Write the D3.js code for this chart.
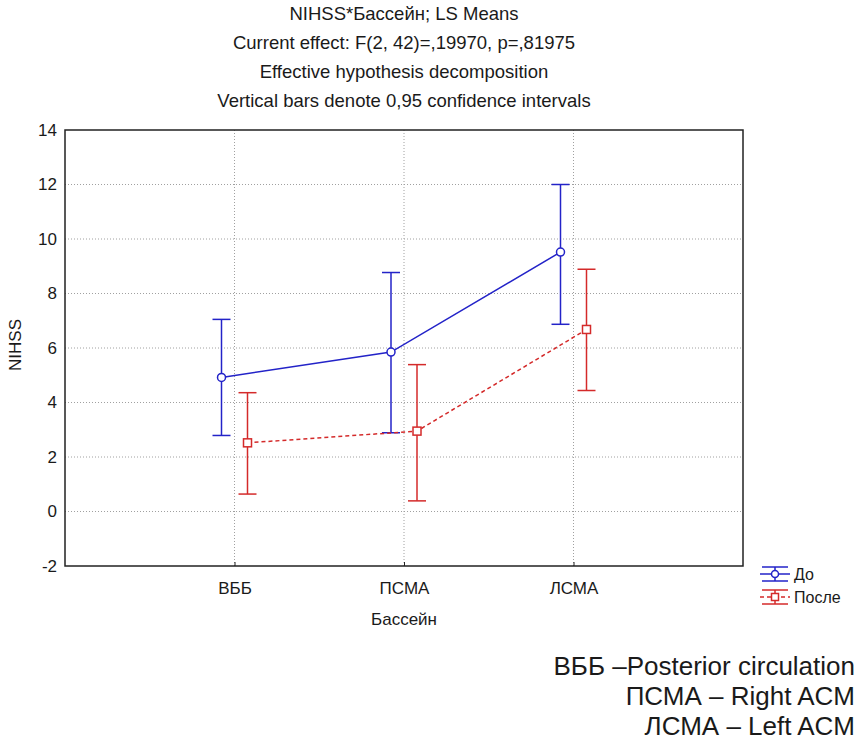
<!DOCTYPE html>
<html>
<head>
<meta charset="utf-8">
<script src="https://cdn.jsdelivr.net/npm/d3@7"></script>
<style>
  body { margin: 0; background: #fff; }
  text { font-family: "Liberation Sans", Arial, sans-serif; fill: #1a1a1a; }
</style>
</head>
<body>
<div id="chart-container"></div>
<script>
// Data
const categories = ["ВББ", "ПСМА", "ЛСМА"];
const seriesNames = ["До", "После"];
const doMean = [4.92, 5.85, 9.52];
const doLow = [2.79, 2.89, 6.87];
const doHigh = [7.05, 8.77, 12.0];
const posleMean = [2.52, 2.95, 6.68];
const posleLow = [0.64, 0.39, 4.44];
const posleHigh = [4.36, 5.39, 8.89];
const yTicks = [-2, 0, 2, 4, 6, 8, 10, 12, 14];
const titleLines = [
    "NIHSS*Бассейн; LS Means",
    "Current effect: F(2, 42)=,19970, p=,81975",
    "Effective hypothesis decomposition",
    "Vertical bars denote 0,95 confidence intervals"
];
const noteLines = [
    "ВББ –Posterior circulation",
    "ПСМА – Right ACM",
    "ЛСМА – Left ACM"
];

const W = 858, H = 743;
const margin = { top: 130, right: 115, bottom: 177, left: 65 };
const width = W - margin.left - margin.right;
const height = H - margin.top - margin.bottom;

const svg = d3.select("#chart-container")
    .append("svg")
    .attr("width", W)
    .attr("height", H);

const g = svg.append("g")
    .attr("transform", `translate(${margin.left},${margin.top})`);

// Scales
const x = d3.scalePoint()
    .domain(categories)
    .range([0, width])
    .padding(1);

const dodge = d3.scalePoint()
    .domain(seriesNames)
    .range([-13, 13]);

const y = d3.scaleLinear()
    .domain([-2, 14])
    .range([height, 0]);

const colors = { "До": "#2323c8", "После": "#d42a2a" };

// Grid
g.append("g")
    .selectAll("line")
    .data(yTicks.filter(d => d > -2 && d < 14))
    .join("line")
    .attr("x1", 0).attr("x2", width)
    .attr("y1", d => y(d)).attr("y2", d => y(d))
    .attr("stroke", "#a0a0a0")
    .attr("stroke-dasharray", "1,2");

g.append("g")
    .selectAll("line")
    .data(categories)
    .join("line")
    .attr("x1", d => x(d)).attr("x2", d => x(d))
    .attr("y1", 0).attr("y2", height)
    .attr("stroke", "#a0a0a0")
    .attr("stroke-dasharray", "1,2");

// Axes
const yAxis = g.append("g")
    .call(d3.axisLeft(y).tickValues(yTicks).tickFormat(d => String(d)).tickSize(0).tickPadding(8));
yAxis.select(".domain").remove();
yAxis.selectAll("text")
    .attr("font-size", 17)
    .attr("font-family", "Liberation Sans, Arial, sans-serif")
    .attr("fill", "#1a1a1a");

const xAxis = g.append("g")
    .attr("transform", `translate(0,${height})`)
    .call(d3.axisBottom(x).tickSize(-4).tickPadding(16));
xAxis.select(".domain").remove();
xAxis.selectAll("line").attr("stroke", "#222");
xAxis.selectAll("text")
    .attr("font-size", 17)
    .attr("font-family", "Liberation Sans, Arial, sans-serif")
    .attr("fill", "#1a1a1a");

// Frame
g.append("rect")
    .attr("width", width)
    .attr("height", height)
    .attr("fill", "none")
    .attr("stroke", "#222")
    .attr("stroke-width", 1.5);

// Series
const series = [
    { name: "До", mean: doMean, low: doLow, high: doHigh, dash: null, marker: "circle" },
    { name: "После", mean: posleMean, low: posleLow, high: posleHigh, dash: "4,3", marker: "square" }
];

const capHalf = 9;

series.forEach(s => {
    const pts = categories.map((c, i) => ({
        cx: x(c) + dodge(s.name),
        m: s.mean[i], lo: s.low[i], hi: s.high[i]
    }));
    const col = colors[s.name];
    const sg = g.append("g");

    sg.append("path")
        .datum(pts)
        .attr("fill", "none")
        .attr("stroke", col)
        .attr("stroke-width", 1.5)
        .attr("stroke-dasharray", s.dash)
        .attr("d", d3.line().x(d => d.cx).y(d => y(d.m)));

    const bars = sg.selectAll(".bar").data(pts).join("g").attr("class", "bar")
        .attr("stroke", col).attr("stroke-width", 1.5);
    bars.append("line")
        .attr("x1", d => d.cx).attr("x2", d => d.cx)
        .attr("y1", d => y(d.lo)).attr("y2", d => y(d.hi));
    bars.append("line")
        .attr("x1", d => d.cx - capHalf).attr("x2", d => d.cx + capHalf)
        .attr("y1", d => y(d.hi)).attr("y2", d => y(d.hi));
    bars.append("line")
        .attr("x1", d => d.cx - capHalf).attr("x2", d => d.cx + capHalf)
        .attr("y1", d => y(d.lo)).attr("y2", d => y(d.lo));

    if (s.marker === "circle") {
        sg.selectAll("circle").data(pts).join("circle")
            .attr("cx", d => d.cx).attr("cy", d => y(d.m))
            .attr("r", 4)
            .attr("fill", "#fff").attr("stroke", col).attr("stroke-width", 1.5);
    } else {
        sg.selectAll("rect").data(pts).join("rect")
            .attr("x", d => d.cx - 4).attr("y", d => y(d.m) - 4)
            .attr("width", 8).attr("height", 8)
            .attr("fill", "#fff").attr("stroke", col).attr("stroke-width", 1.5);
    }
});

// Titles
svg.append("g")
    .selectAll("text")
    .data(titleLines)
    .join("text")
    .attr("x", margin.left + width / 2)
    .attr("y", (d, i) => 20 + i * 29)
    .attr("text-anchor", "middle")
    .attr("font-size", 18.5)
    .text(d => d);

// Axis titles
svg.append("text")
    .attr("x", margin.left + width / 2)
    .attr("y", 625)
    .attr("text-anchor", "middle")
    .attr("font-size", 17)
    .text("Бассейн");

svg.append("text")
    .attr("transform", `translate(21,${margin.top + height / 2 - 3}) rotate(-90)`)
    .attr("text-anchor", "middle")
    .attr("font-size", 17)
    .text("NIHSS");

// Legend
const legend = svg.append("g").attr("transform", "translate(760,567)");
series.forEach((s, i) => {
    const col = colors[s.name];
    const lg = legend.append("g").attr("transform", `translate(0,${i * 23})`)
        .attr("stroke", col).attr("stroke-width", 1.5);
    lg.append("line").attr("x1", 2).attr("x2", 28).attr("y1", 0).attr("y2", 0);
    lg.append("line").attr("x1", 2).attr("x2", 28).attr("y1", 14).attr("y2", 14);
    lg.append("line").attr("x1", 15).attr("x2", 15).attr("y1", 0).attr("y2", 14);
    lg.append("line").attr("x1", 0).attr("x2", 30).attr("y1", 7).attr("y2", 7)
        .attr("stroke-dasharray", s.dash);
    if (s.marker === "circle") {
        lg.append("circle").attr("cx", 15).attr("cy", 7).attr("r", 3.5).attr("fill", "#fff");
    } else {
        lg.append("rect").attr("x", 11.5).attr("y", 3.5).attr("width", 7).attr("height", 7).attr("fill", "#fff");
    }
    legend.append("text")
        .attr("x", 34).attr("y", i * 23 + 13)
        .attr("font-size", 16)
        .text(s.name);
});

// Footnote
svg.append("g")
    .selectAll("text")
    .data(noteLines)
    .join("text")
    .attr("x", 855)
    .attr("y", (d, i) => 675 + i * 30)
    .attr("text-anchor", "end")
    .attr("font-size", 26)
    .text(d => d);
</script>
</body>
</html>
